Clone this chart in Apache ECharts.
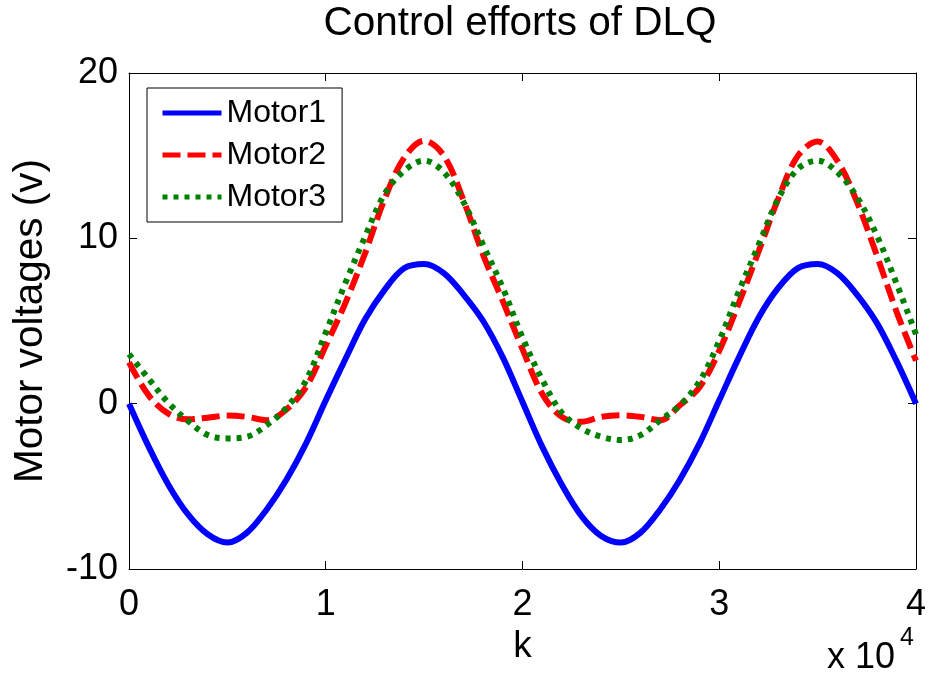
<!DOCTYPE html>
<html>
<head>
<meta charset="utf-8">
<script src="https://cdn.jsdelivr.net/npm/echarts@6/dist/echarts.min.js"></script>
<style>
  html, body { margin: 0; padding: 0; background: #fff; }
  #chart { width: 929px; height: 677px; }
</style>
</head>
<body>
<div id="chart"></div>
<script>
// Sample index k (time steps)
const kSamples = [
  0, 1000, 2000, 3000, 4000, 5000, 6000, 7000, 8000, 9000,
  10000, 11000, 12000, 13000, 14000, 15000, 16000, 17000, 18000, 19000,
  20000, 21000, 22000, 23000, 24000, 25000, 26000, 27000, 28000, 29000,
  30000, 31000, 32000, 33000, 34000, 35000, 36000, 37000, 38000, 39000,
  40000
];

// Motor voltages (V) at each sample
const motor1 = [
  0.0, -2.6, -4.9, -6.7, -7.9, -8.4, -7.8, -6.4, -4.6, -2.4,
  0.2, 2.7, 5.1, 6.9, 8.2, 8.45, 7.9, 6.6, 5.0, 2.8,
  0.1, -2.6, -4.9, -6.8, -8.0, -8.4, -7.8, -6.4, -4.6, -2.4,
  0.2, 2.8, 5.2, 7.0, 8.2, 8.45, 7.9, 6.6, 4.9, 2.6,
  0.0
];
const motor2 = [
  2.5, 0.5, -0.6, -0.95, -0.85, -0.72, -0.8, -1.0, -0.35, 1.0,
  3.5, 6.1, 9.1, 12.4, 14.9, 15.9, 15.0, 12.3, 9.0, 6.2,
  3.3, 0.6, -0.8, -1.1, -0.8, -0.7, -0.8, -1.0, -0.1, 1.0,
  3.2, 6.1, 9.2, 12.4, 15.0, 15.85, 14.7, 12.2, 9.0, 5.6,
  2.6
];
const motor3 = [
  3.0, 1.5, 0.05, -1.05, -1.9, -2.1, -2.0, -1.3, -0.25, 1.4,
  4.3, 7.3, 10.1, 12.7, 14.1, 14.7, 14.0, 12.2, 9.6, 7.0,
  4.0, 1.45, -0.55, -1.5, -2.0, -2.2, -1.9, -1.0, -0.1, 1.35,
  3.8, 6.8, 9.6, 12.4, 14.2, 14.7, 14.0, 12.5, 10.2, 7.3,
  4.2
];

const seriesNames = ['Motor1', 'Motor2', 'Motor3'];

const FONT = '"Liberation Sans", Arial, Helvetica, sans-serif';

function pairs(ys) {
  return kSamples.map((k, i) => [k, ys[i]]);
}

const chart = echarts.init(document.getElementById('chart'), null, { renderer: 'canvas' });

// Box-style axes: plain black frame with short ticks pointing inwards
function frameAxis(extra) {
  return Object.assign({
    axisLine: { show: true, onZero: false, lineStyle: { color: '#000', width: 1 } },
    axisTick: { show: true, inside: true, length: 8, lineStyle: { color: '#000', width: 1 } },
    splitLine: { show: false }
  }, extra);
}

chart.setOption({
  backgroundColor: '#fff',
  animation: false,
  title: {
    text: 'Control efforts of DLQ',
    left: 520,
    top: 3,
    textAlign: 'center',
    padding: 0,
    textStyle: { fontFamily: FONT, fontSize: 40.5, fontWeight: 'normal', color: '#000' }
  },
  grid: { left: 129, right: 12, top: 73, bottom: 108, containLabel: false },
  legend: {
    orient: 'vertical',
    left: 147,
    top: 88,
    padding: [9, 16, 9, 13],
    itemGap: 10,
    itemWidth: 59,
    itemHeight: 20,
    backgroundColor: '#fff',
    borderColor: '#000',
    borderWidth: 1,
    borderRadius: 0,
    data: seriesNames,
    itemStyle: { opacity: 0 },
    lineStyle: { width: 5 },
    textStyle: { fontFamily: FONT, fontSize: 32, color: '#000' }
  },
  xAxis: [
    frameAxis({
      type: 'value',
      position: 'bottom',
      min: 0, max: 40000, interval: 10000,
      name: 'k',
      nameLocation: 'middle',
      nameGap: 58,
      nameTextStyle: { fontFamily: FONT, fontSize: 37, color: '#000' },
      axisLabel: {
        show: true, margin: 18,
        fontFamily: FONT, fontSize: 36, color: '#000',
        formatter: v => String(v / 10000)
      }
    }),
    frameAxis({
      type: 'value',
      position: 'top',
      min: 0, max: 40000, interval: 10000,
      axisLabel: { show: false }
    })
  ],
  yAxis: [
    frameAxis({
      type: 'value',
      position: 'left',
      min: -10, max: 20, interval: 10,
      name: 'Motor voltages (v)',
      nameLocation: 'middle',
      nameGap: 78,
      nameTextStyle: { fontFamily: FONT, fontSize: 40.5, color: '#000' },
      axisLabel: {
        show: true, margin: 11,
        fontFamily: FONT, fontSize: 36, color: '#000'
      }
    }),
    frameAxis({
      type: 'value',
      position: 'right',
      min: -10, max: 20, interval: 10,
      axisLabel: { show: false }
    })
  ],
  graphic: [
    {
      type: 'text',
      left: 827,
      top: 640,
      style: {
        text: 'x 10',
        fontFamily: FONT, fontSize: 36, fill: '#000'
      }
    },
    {
      type: 'text',
      left: 900,
      top: 626,
      style: {
        text: '4',
        fontFamily: FONT, fontSize: 25, fill: '#000'
      }
    }
  ],
  series: [
    {
      name: 'Motor1', type: 'line', data: pairs(motor1),
      xAxisIndex: 0, yAxisIndex: 0,
      symbol: 'none', smooth: 0.35,
      lineStyle: { color: '#0000ff', width: 6, type: 'solid' },
      itemStyle: { color: '#0000ff' },
      z: 3
    },
    {
      name: 'Motor2', type: 'line', data: pairs(motor2),
      xAxisIndex: 0, yAxisIndex: 0,
      symbol: 'none', smooth: 0.35,
      lineStyle: { color: '#ff0000', width: 6, type: [18, 7] },
      itemStyle: { color: '#ff0000' },
      z: 4
    },
    {
      name: 'Motor3', type: 'line', data: pairs(motor3),
      xAxisIndex: 0, yAxisIndex: 0,
      symbol: 'none', smooth: 0.35,
      lineStyle: { color: '#008000', width: 6, type: [5, 6] },
      itemStyle: { color: '#008000' },
      z: 5
    }
  ]
});
</script>
</body>
</html>
